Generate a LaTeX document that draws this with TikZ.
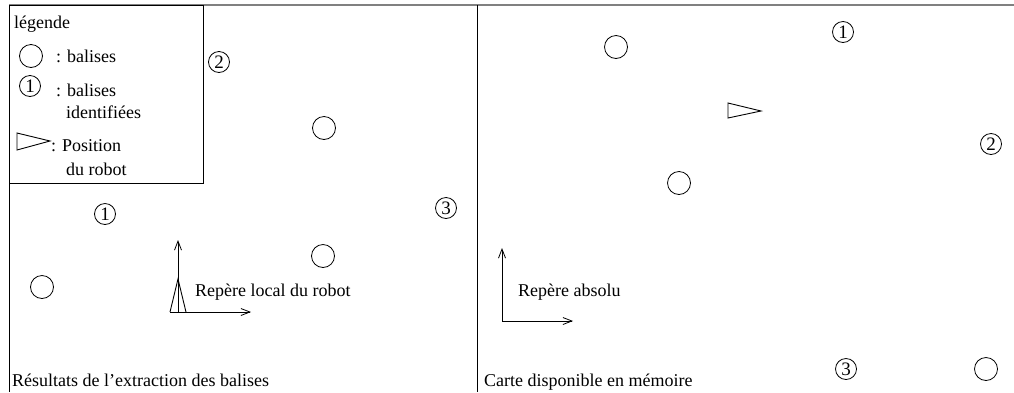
\documentclass[tikz,border=0pt]{standalone}
\usepackage{fontspec}
\setmainfont{Liberation Serif}
\usetikzlibrary{arrows.meta}
\tikzset{
  balise/.style={circle, draw, line width=0.8pt, minimum size=23pt, inner sep=0pt},
  ident/.style={circle, draw, line width=0.8pt, minimum size=21pt, inner sep=0pt, font=\fontsize{19}{19}\selectfont},
  lbl/.style={anchor=base west, inner sep=0pt, font=\fontsize{18}{20}\selectfont},
  frame/.style={line width=1pt},
  axis/.style={line width=0.9pt, -{Straight Barb[length=9pt,width=7pt,line width=0.8pt]}},
  robot/.style={line width=0.9pt}
}
\begin{document}
\begin{tikzpicture}[x=1pt,y=-1pt]
\useasboundingbox (0,0) rectangle (1014,392);
% frame
\coordinate (tl) at (9,5);
\coordinate (tr) at (1014,5);
\coordinate (bl) at (9,392);
\coordinate (mt) at (477,5);
\coordinate (mb) at (477,392);
\draw[line width=1.6pt, black!50] (tl) -- (tr);
\draw[frame] (tl) -- (bl);
\draw[frame] (mt) -- (mb);
% legend
\draw[frame] (9,5) rectangle (203,183);
\node[lbl] (leg) at (14,28) {légende};
\node[balise] (lc) at (31,56) {};
\node[lbl] (lct) at (56,62) {: balises};
\node[ident] (li) at (30,86) {1};
\node[lbl] (lit) at (56,96) {: balises};
\node[lbl] (lit2) at (66,118) {identifiées};
\draw[robot] (17,133) -- (50,141) -- (17,150) -- cycle;
\node[lbl] (lrt) at (51,151) {: Position};
\node[lbl] (lrt2) at (66,175) {du robot};
% left panel
\node[ident] (l2) at (219,62) {2};
\node[balise] (lb1) at (324,128) {};
\node[ident] (l3) at (446,208) {3};
\node[ident] (l1) at (105,214) {1};
\node[balise] (lb2) at (323,256) {};
\node[balise] (lb3) at (42,287) {};
\coordinate (lo) at (178,312);
\coordinate (lx) at (251,312);
\coordinate (ly) at (178,240);
\draw[axis] (lo) -- (ly);
\draw[axis] (170,312) -- (lx);
\draw[robot] (170,312) -- (178,279) -- (186,312);
\node[lbl] (llab) at (195,296) {Repère local du robot};
\node[lbl] (ltitle) at (12,386) {Résultats de l’extraction des balises};
% right panel
\node[balise] (rb1) at (616,47) {};
\node[ident] (r1) at (843,32) {1};
\draw[robot] (728,103) -- (761,111) -- (728,118) -- cycle;
\node[ident] (r2) at (991,144) {2};
\node[balise] (rb2) at (679,183) {};
\coordinate (ro) at (502,321);
\coordinate (rx) at (573,321);
\coordinate (ry) at (502,248);
\draw[axis] (ro) -- (ry);
\draw[axis] (ro) -- (rx);
\node[lbl] (rlab) at (518,296) {Repère absolu};
\node[ident] (r3) at (846,369) {3};
\node[balise] (rb3) at (986,369) {};
\node[lbl] (rtitle) at (484,386) {Carte disponible en mémoire};
\end{tikzpicture}
\end{document}
